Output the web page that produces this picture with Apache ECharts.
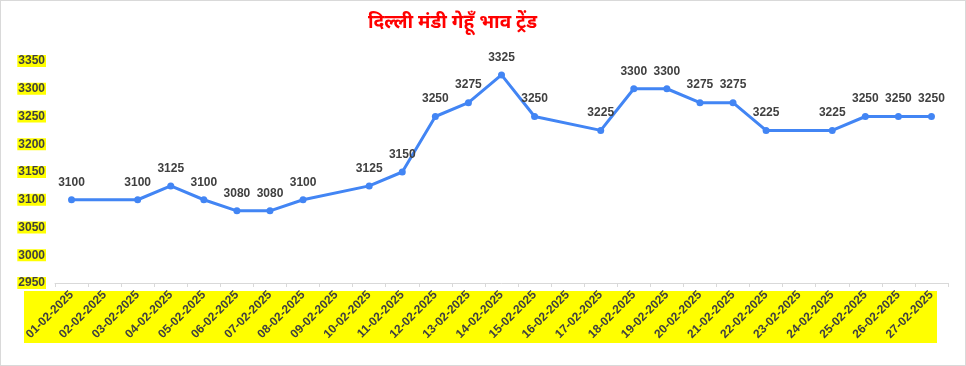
<!DOCTYPE html>
<html>
<head>
<meta charset="utf-8">
<script src="https://cdn.jsdelivr.net/npm/echarts@6/dist/echarts.min.js"></script>
<style>
html,body{margin:0;padding:0;background:#fff;}
#chart{width:966px;height:366px;box-sizing:border-box;border:1px solid #d9d9d9;}
</style>
</head>
<body>
<div id="chart"></div>
<script>
const titleText = 'दिल्ली मंडी गेहूँ भाव ट्रेंड';
const dates = ['01-02-2025','02-02-2025','03-02-2025','04-02-2025','05-02-2025','06-02-2025','07-02-2025','08-02-2025','09-02-2025','10-02-2025','11-02-2025','12-02-2025','13-02-2025','14-02-2025','15-02-2025','16-02-2025','17-02-2025','18-02-2025','19-02-2025','20-02-2025','21-02-2025','22-02-2025','23-02-2025','24-02-2025','25-02-2025','26-02-2025','27-02-2025'];
const prices = [3100,null,3100,3125,3100,3080,3080,3100,null,3125,3150,3250,3275,3325,3250,null,3225,3300,3300,3275,3275,3225,null,3225,3250,3250,3250];
const yMin = 2950, yMax = 3350, yStep = 50;

const chart = echarts.init(document.getElementById('chart'), null, {renderer:'canvas'});
const font = "'Liberation Sans', Arial, sans-serif";
chart.setOption({
  backgroundColor: '#ffffff',
  animation: false,
  title: {
    text: titleText,
    left: 362, top: 7,
    textStyle: {color: '#ff0000', fontSize: 19, fontWeight: 'bold', fontFamily: "'Noto Sans', 'Liberation Sans', sans-serif"}
  },
  graphic: [{
    type: 'rect', z: -10, silent: true,
    shape: {x: 23, y: 290, width: 913, height: 52},
    style: {fill: '#ffff00'}
  }],
  grid: {left: 54, right: 17, top: 60, bottom: 82},
  xAxis: {
    type: 'category',
    data: dates,
    boundaryGap: true,
    axisLine: {lineStyle: {color: '#d9d9d9', width: 1}},
    axisTick: {show: true, length: 4, lineStyle: {color: '#d9d9d9'}},
    axisLabel: {rotate: 45, interval: 0, margin: 10, color: '#404040', fontSize: 12, fontWeight: 'bold', fontFamily: font}
  },
  yAxis: {
    type: 'value',
    min: yMin, max: yMax, interval: yStep,
    axisLine: {show: false},
    axisTick: {show: false},
    splitLine: {show: false},
    axisLabel: {margin: 9, color: '#404040', fontSize: 12, fontWeight: 'bold', fontFamily: font, backgroundColor: '#ffff00', padding: [0, 1, 0, 1], formatter: v => String(v)}
  },
  series: [{
    type: 'line',
    data: prices,
    connectNulls: true,
    symbol: 'circle',
    symbolSize: 7,
    lineStyle: {color: '#4285f4', width: 3},
    itemStyle: {color: '#4285f4'},
    label: {show: true, position: 'top', distance: 8, color: '#404040', fontSize: 12, fontWeight: 'bold', fontFamily: font}
  }]
});
</script>
</body>
</html>
